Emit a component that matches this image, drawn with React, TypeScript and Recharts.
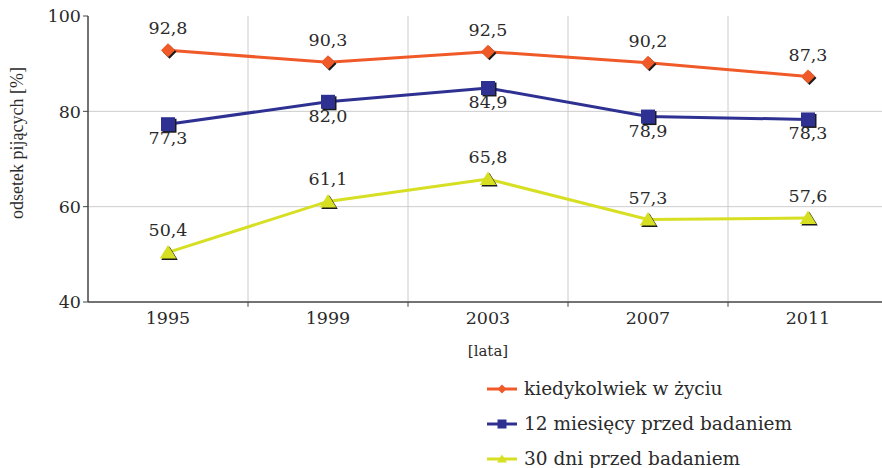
import { CartesianGrid, LabelList, Line, LineChart, ReferenceLine, XAxis, YAxis, Label } from 'recharts';

const YEARS = [1995, 1999, 2003, 2007, 2011];
const EVER = [92.8, 90.3, 92.5, 90.2, 87.3];
const LAST_12_MONTHS = [77.3, 82.0, 84.9, 78.9, 78.3];
const LAST_30_DAYS = [50.4, 61.1, 65.8, 57.3, 57.6];
const BOUNDARIES = [1997, 2001, 2005, 2009];
const Y_TICKS = [40, 60, 80, 100];

const SERIES = [
    { key: 'ever', name: 'kiedykolwiek w życiu', color: '#f05a28', shape: 'diamond' },
    { key: 'year12', name: '12 miesięcy przed badaniem', color: '#2e3192', shape: 'square' },
    { key: 'month', name: '30 dni przed badaniem', color: '#d7df23', shape: 'triangle' },
];

const data = YEARS.map((year, i) => ({
    year,
    ever: EVER[i],
    year12: LAST_12_MONTHS[i],
    month: LAST_30_DAYS[i],
}));

const FONT = '"DejaVu Serif", serif';
const TEXT = '#2b2b2b';

function markerPath(shape: string, cx: number, cy: number, s: number) {
    if (shape === 'diamond') {
        return `M${cx},${cy - s} L${cx + s},${cy} L${cx},${cy + s} L${cx - s},${cy} Z`;
    }
    if (shape === 'square') {
        return `M${cx - s},${cy - s} H${cx + s} V${cy + s} H${cx - s} Z`;
    }
    return `M${cx},${cy - s} L${cx + s * 1.1},${cy + s * 0.8} L${cx - s * 1.1},${cy + s * 0.8} Z`;
}

function makeDot(shape: string, color: string, size: number) {
    return (props: any) => {
        const { cx, cy, index } = props;
        if (cx == null || cy == null) return <g key={index} />;
        return (
            <g key={index}>
                <path d={markerPath(shape, cx + 1.5, cy + 1.5, size)} fill="#1a1a1a" />
                <path d={markerPath(shape, cx, cy, size)} fill={color} />
            </g>
        );
    };
}

function makeLabel(dy: number) {
    return (props: any) => {
        const { x, y, value, index } = props;
        return (
            <text
                key={index}
                x={x}
                y={y + dy}
                textAnchor="middle"
                fontFamily={FONT}
                fontSize={17.5}
                fill={TEXT}
            >
                {Number(value).toFixed(1).replace('.', ',')}
            </text>
        );
    };
}

function LegendBox() {
    return (
        <div
            style={{
                position: 'absolute',
                left: 486,
                top: 371,
                fontFamily: FONT,
                fontSize: 18.5,
                color: TEXT,
            }}
        >
            {SERIES.map((s) => (
                <div key={s.key} style={{ display: 'flex', alignItems: 'center', height: 35 }}>
                    <svg width={32} height={14} style={{ marginRight: 6 }}>
                        <line x1={1} y1={7} x2={31} y2={7} stroke={s.color} strokeWidth={3} />
                        <path d={markerPath(s.shape, 16, 7, 4.5)} fill={s.color} />
                    </svg>
                    <span>{s.name}</span>
                </div>
            ))}
        </div>
    );
}

export default function App() {
    return (
        <div style={{ position: 'absolute', left: 0, top: 0, width: 882, height: 468, overflow: 'hidden', background: '#fff' }}>
            <LineChart
                width={890}
                height={468}
                data={data}
                margin={{ top: 16, right: 2, left: 0, bottom: 106 }}
            >
                <CartesianGrid
                    stroke="#cccccc"
                    strokeWidth={1}
                    horizontalValues={[60, 80]}
                    verticalValues={BOUNDARIES}
                />
                <XAxis
                    dataKey="year"
                    type="number"
                    domain={[1993, 2013]}
                    ticks={YEARS}
                    tickLine={false}
                    tickMargin={4}
                    axisLine={{ stroke: '#444', strokeWidth: 1.5 }}
                    tick={{ fill: TEXT, fontFamily: FONT, fontSize: 17.5 }}
                    height={60}
                >
                    <Label
                        value="[lata]"
                        position="insideBottom"
                        offset={6}
                        style={{ fill: TEXT, fontFamily: FONT, fontSize: 15 }}
                    />
                </XAxis>
                <YAxis
                    domain={[40, 100]}
                    ticks={Y_TICKS}
                    width={88}
                    tickSize={5}
                    tickMargin={2}
                    axisLine={{ stroke: '#444', strokeWidth: 1.5 }}
                    tickLine={{ stroke: '#444' }}
                    tick={{ fill: TEXT, fontFamily: FONT, fontSize: 17.5 }}
                >
                    <Label
                        content={({ viewBox }: any) => {
                            const cy = viewBox.y + viewBox.height / 2 - 16;
                            return (
                                <text
                                    x={23}
                                    y={cy}
                                    transform={`rotate(-90, 23, ${cy})`}
                                    textAnchor="middle"
                                    fontFamily='"Liberation Serif", serif'
                                    fontSize={18}
                                    fill={TEXT}
                                >
                                    odsetek pijących [%]
                                </text>
                            );
                        }}
                    />
                </YAxis>
                {BOUNDARIES.map((b) => (
                    <ReferenceLine
                        key={b}
                        segment={[{ x: b, y: 40 }, { x: b, y: 39 }]}
                        stroke="#444"
                        ifOverflow="visible"
                    />
                ))}
                {SERIES.map((s) => (
                    <Line
                        key={s.key}
                        dataKey={s.key}
                        name={s.name}
                        stroke={s.color}
                        strokeWidth={3}
                        dot={makeDot(s.shape, s.color, s.shape === 'triangle' ? 7.5 : 7)}
                        isAnimationActive={false}
                    >
                        <LabelList dataKey={s.key} content={makeLabel(s.key === 'year12' ? 20 : -16)} />
                    </Line>
                ))}
            </LineChart>
            <LegendBox />
        </div>
    );
}
